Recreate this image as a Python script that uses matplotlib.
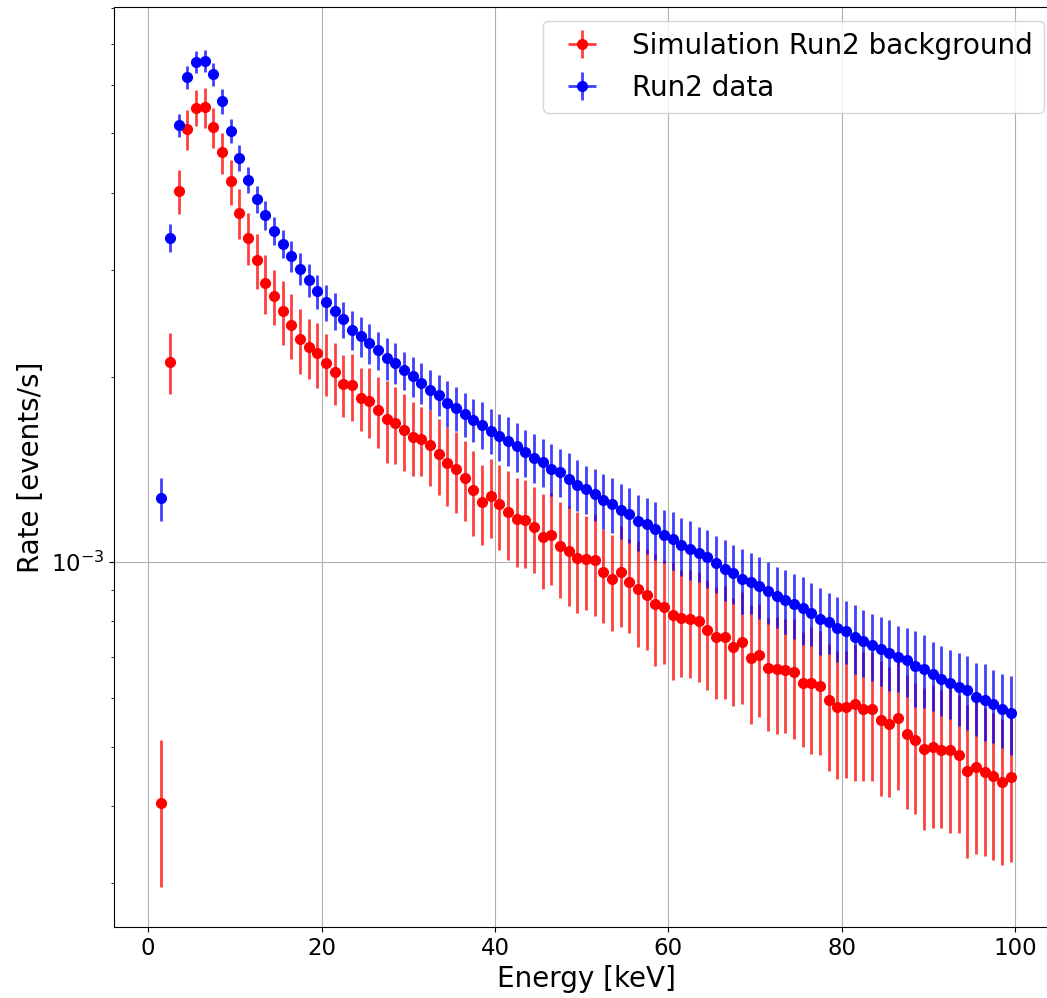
import numpy as np
import matplotlib
matplotlib.use("Agg")
import matplotlib.pyplot as plt

# ------------------------------------------------------------------ Datos
# bin centres [keV] (1 keV bins)
energy = np.arange(1.5, 100.0, 1.0)

# Run2 data, rate in units of 1e-3 events/s
rate_data = [
    1.270, 3.38, 5.155, 6.175, 6.538, 6.569, 6.246, 5.643, 5.054, 4.565,
    4.20, 3.905, 3.679, 3.470, 3.307, 3.156, 3.010, 2.886, 2.767, 2.653,
    2.567, 2.488, 2.394, 2.335, 2.274, 2.215, 2.153, 2.111, 2.054, 2.011,
    1.962, 1.911, 1.876, 1.818, 1.782, 1.743, 1.708, 1.676, 1.637, 1.603,
    1.577, 1.544, 1.511, 1.480, 1.457, 1.419, 1.404, 1.366, 1.338, 1.315,
    1.291, 1.262, 1.244, 1.216, 1.198, 1.166, 1.153, 1.131, 1.107, 1.089,
    1.065, 1.050, 1.033, 1.018, 0.996, 0.975, 0.960, 0.937, 0.929, 0.914,
    0.896, 0.881, 0.867, 0.853, 0.840, 0.827, 0.807, 0.798, 0.781, 0.773,
    0.754, 0.743, 0.732, 0.721, 0.710, 0.700, 0.691, 0.676, 0.670, 0.656,
    0.645, 0.636, 0.626, 0.618, 0.602, 0.596, 0.587, 0.577, 0.568,
]
err_data = [
    0.103, 0.181, 0.226, 0.270, 0.270, 0.279, 0.266, 0.261, 0.234, 0.217,
    0.205, 0.201, 0.194, 0.183, 0.179, 0.182, 0.177, 0.177, 0.177, 0.182,
    0.176, 0.164, 0.173, 0.175, 0.168, 0.160, 0.171, 0.162, 0.148, 0.149,
    0.151, 0.144, 0.145, 0.156, 0.148, 0.146, 0.139, 0.146, 0.137, 0.144,
    0.145, 0.139, 0.133, 0.135, 0.130, 0.138, 0.127, 0.142, 0.127, 0.119,
    0.125, 0.129, 0.128, 0.127, 0.123, 0.122, 0.121, 0.123, 0.111, 0.118,
    0.116, 0.116, 0.106, 0.110, 0.107, 0.110, 0.106, 0.115, 0.106, 0.105,
    0.104, 0.099, 0.105, 0.103, 0.107, 0.097, 0.101, 0.091, 0.095, 0.092,
    0.096, 0.093, 0.092, 0.092, 0.094, 0.086, 0.089, 0.095, 0.091, 0.084,
    0.085, 0.082, 0.085, 0.085, 0.082, 0.085, 0.081, 0.079, 0.084,
]

# Simulation Run2 background, rate in units of 1e-3 events/s
rate_sim = [
    0.404, 2.12, 4.029, 5.080, 5.51, 5.52, 5.123, 4.656, 4.178, 3.715,
    3.38, 3.109, 2.855, 2.717, 2.567, 2.437, 2.308, 2.239, 2.190, 2.109,
    2.041, 1.951, 1.941, 1.854, 1.830, 1.770, 1.711, 1.688, 1.645, 1.601,
    1.586, 1.550, 1.501, 1.448, 1.416, 1.372, 1.310, 1.254, 1.283, 1.243,
    1.208, 1.177, 1.171, 1.142, 1.099, 1.106, 1.064, 1.042, 1.017, 1.012,
    1.008, 0.964, 0.940, 0.964, 0.928, 0.905, 0.885, 0.853, 0.845, 0.819,
    0.810, 0.809, 0.801, 0.776, 0.755, 0.756, 0.728, 0.740, 0.698, 0.706,
    0.671, 0.669, 0.666, 0.662, 0.635, 0.635, 0.629, 0.596, 0.580, 0.580,
    0.586, 0.577, 0.577, 0.553, 0.544, 0.557, 0.525, 0.512, 0.495, 0.500,
    0.493, 0.493, 0.484, 0.457, 0.463, 0.455, 0.447, 0.438, 0.446,
]
err_sim = [
    0.109, 0.240, 0.333, 0.382, 0.373, 0.415, 0.385, 0.357, 0.351, 0.345,
    0.327, 0.324, 0.315, 0.283, 0.306, 0.297, 0.282, 0.253, 0.264, 0.244,
    0.238, 0.229, 0.242, 0.219, 0.239, 0.237, 0.260, 0.245, 0.235, 0.220,
    0.207, 0.220, 0.213, 0.214, 0.213, 0.205, 0.206, 0.188, 0.190, 0.196,
    0.202, 0.196, 0.192, 0.183, 0.194, 0.189, 0.189, 0.193, 0.190, 0.177,
    0.192, 0.168, 0.169, 0.180, 0.163, 0.178, 0.165, 0.177, 0.162, 0.176,
    0.161, 0.162, 0.163, 0.158, 0.156, 0.158, 0.146, 0.154, 0.154, 0.148,
    0.140, 0.145, 0.140, 0.147, 0.135, 0.149, 0.144, 0.139, 0.137, 0.135,
    0.147, 0.137, 0.137, 0.137, 0.130, 0.132, 0.129, 0.124, 0.129, 0.131,
    0.125, 0.132, 0.123, 0.128, 0.129, 0.124, 0.120, 0.117, 0.122,
]

SCALE = 1e-3
rate_data = np.array(rate_data) * SCALE
err_data = np.array(err_data) * SCALE
rate_sim = np.array(rate_sim) * SCALE
err_sim = np.array(err_sim) * SCALE

# ------------------------------------------------------------------ Gráfico
fig = plt.figure(figsize=(10.47, 9.98), dpi=100)
ax = fig.add_axes([114 / 1047, 71 / 998, 944 / 1047, 920 / 998])

sim = ax.errorbar(energy, rate_sim, yerr=err_sim, xerr=0.5, fmt="o",
                  color="red", ms=7, elinewidth=2,
                  label="Simulation Run2 background")
dat = ax.errorbar(energy, rate_data, yerr=err_data, xerr=0.5, fmt="o",
                  color="blue", ms=7, elinewidth=2, label="Run2 data")
for eb in (sim, dat):
    for c in eb[2]:
        c.set_alpha(0.75)

ax.set_yscale("log")
ax.set_xlim(-3.95, 104.95)
ax.set_ylim(2.54e-4, 8.04e-3)
ax.grid(True)
ax.set_xlabel("Energy [keV]", fontsize=20)
ax.set_ylabel("Rate [events/s]", fontsize=20)
ax.tick_params(axis="both", which="major", labelsize=16.5)
ax.legend(loc="upper right", fontsize=20)

fig.savefig("out.png", dpi=100)
